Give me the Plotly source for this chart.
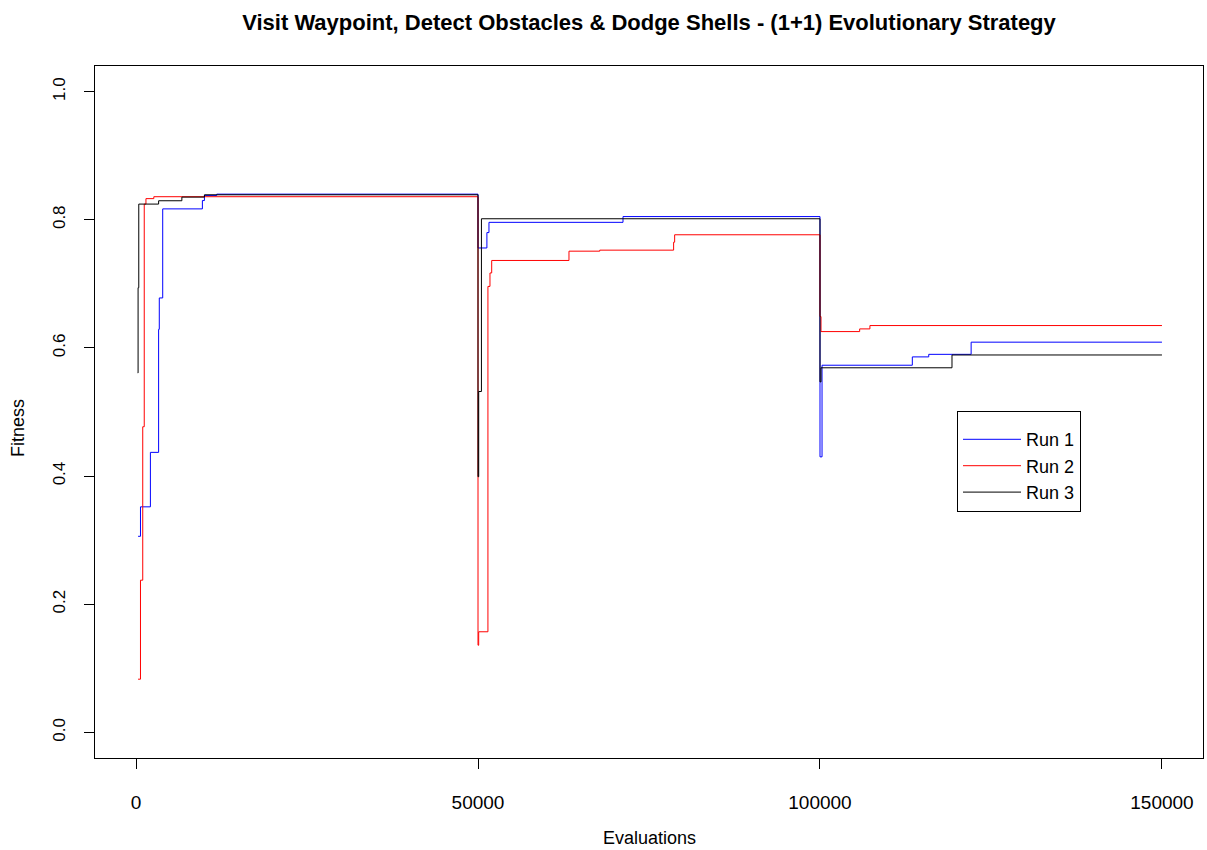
import plotly.graph_objects as go

# Run 1 (blue)
run1_x = [300, 650, 2100, 3300, 3400, 3900, 9700, 10000, 11800,
          50000, 51300, 51600, 71200,
          100000, 100300, 113500, 115900, 122100, 150000]
run1_y = [0.306, 0.352, 0.437, 0.629, 0.678, 0.817, 0.830, 0.838, 0.840,
          0.756, 0.780, 0.796, 0.805,
          0.430, 0.573, 0.586, 0.590, 0.609, 0.609]

# Run 2 (red)
run2_x = [300, 650, 980, 1200, 1450, 2600,
          50000, 50100, 51450, 51750, 52000, 63300, 67800, 78600, 78750,
          100000, 100150, 105800, 107300, 150000]
run2_y = [0.083, 0.2375, 0.477, 0.8245, 0.833, 0.836,
          0.136, 0.157, 0.696, 0.717, 0.7365, 0.751, 0.7526, 0.765, 0.7766,
          0.649, 0.6255, 0.6297, 0.6349, 0.6349]

# Run 3 (black)
run3_x = [250, 300, 400, 3300, 6700, 10000,
          50000, 50100, 50500,
          100000, 100150, 119300, 150000]
run3_y = [0.561, 0.694, 0.8245, 0.8297, 0.8354, 0.839,
          0.399, 0.532, 0.8016,
          0.547, 0.569, 0.589, 0.589]

run_names = ["Run 1", "Run 2", "Run 3"]
run_colors = ["#0000FF", "#FF0000", "#000000"]

x_ticks = [0, 50000, 100000, 150000]
y_ticks = [0.0, 0.2, 0.4, 0.6, 0.8, 1.0]
y_tick_text = ["0.0", "0.2", "0.4", "0.6", "0.8", "1.0"]

title_text = "Visit Waypoint, Detect Obstacles & Dodge Shells - (1+1) Evolutionary Strategy"
x_title = "Evaluations"
y_title = "Fitness"

FONT = "Liberation Sans, Arial, sans-serif"
W, H = 1207, 850
ML, MR, MT, MB = 95, 4, 66, 92
pw, ph = W - ML - MR, H - MT - MB

fig = go.Figure()
for xs, ys, name, col in zip([run1_x, run2_x, run3_x], [run1_y, run2_y, run3_y],
                             run_names, run_colors):
    fig.add_trace(go.Scatter(x=xs, y=ys, mode="lines", name=name,
                             line=dict(color=col, width=1, shape="hv")))

fig.update_layout(
    width=W, height=H, autosize=False,
    margin=dict(l=ML, r=MR, t=MT, b=MB, pad=0),
    paper_bgcolor="white", plot_bgcolor="white",
    font=dict(family=FONT, size=16, color="#000000"),
    title=dict(text="<b>" + title_text + "</b>", x=0.5, xref="paper",
               y=1 - 22 / H, yref="container", yanchor="middle", xanchor="center",
               font=dict(family=FONT, size=22, color="#000000")),
    showlegend=True,
    legend=dict(x=(957 - ML) / pw, y=(H - MB - 411) / ph,
                xanchor="left", yanchor="top",
                bgcolor="white", bordercolor="#000000", borderwidth=1,
                font=dict(family=FONT, size=18, color="#000000"),
                title=dict(text=" ", font=dict(family=FONT, size=7)),
                tracegroupgap=0, itemwidth=58),
    annotations=[
        dict(text=x_title, xref="paper", yref="paper",
             x=0.5, y=((H - 838) - MB) / ph,
             showarrow=False, xanchor="center", yanchor="middle",
             font=dict(family=FONT, size=18, color="#000000")),
        dict(text=y_title, textangle=-90, xref="paper", yref="paper",
             x=(18 - ML) / pw, y=((H - 428) - MB) / ph,
             showarrow=False, xanchor="center", yanchor="middle",
             font=dict(family=FONT, size=18, color="#000000")),
    ],
)

fig.update_xaxes(
    range=[-6000, 156000], tickvals=x_ticks, ticktext=[str(v) for v in x_ticks],
    showgrid=False, zeroline=False, showline=True, linecolor="#000000", linewidth=1,
    mirror=True, ticks="outside", ticklen=10, tickcolor="#000000", tickwidth=1,
    tickfont=dict(family=FONT, size=19, color="#000000"),
    ticklabelstandoff=17, automargin=False,
)
fig.update_yaxes(
    range=[-0.04, 1.04], tickvals=y_ticks, ticktext=y_tick_text,
    showgrid=False, zeroline=False, showline=True, linecolor="#000000", linewidth=1,
    mirror=True, ticks="outside", ticklen=10, tickcolor="#000000", tickwidth=1,
    tickangle=-90,
    tickfont=dict(family=FONT, size=17, color="#000000"),
    ticklabelstandoff=12, automargin=False,
)

fig.write_html("out.html",
               config={"displayModeBar": False},
               post_script="document.body.style.margin='0';document.body.style.overflow='hidden';")
